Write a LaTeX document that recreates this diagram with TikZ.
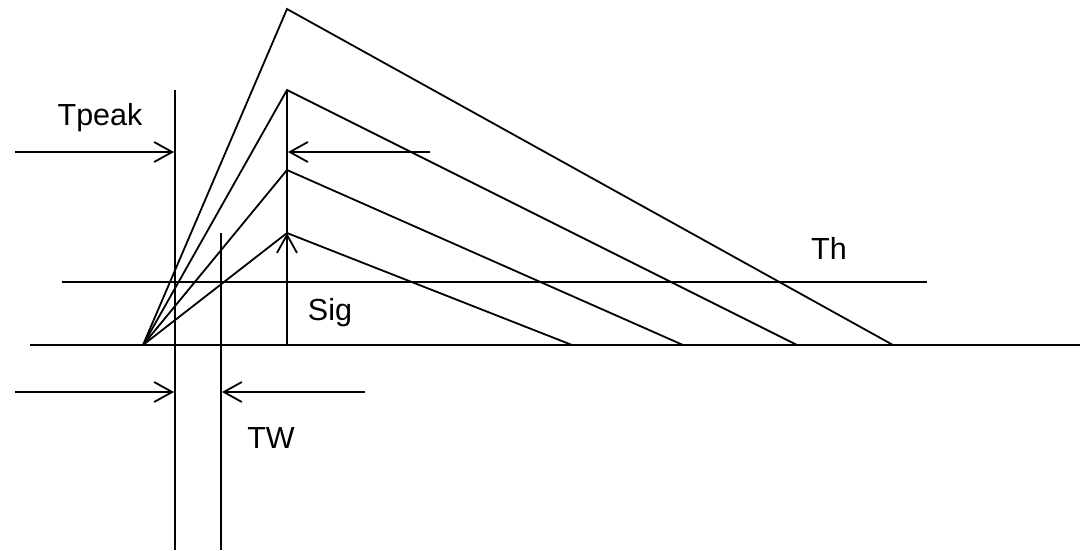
\documentclass[tikz,border=0pt]{standalone}
\usepackage{fontspec}
\setmainfont{Liberation Sans}
\usetikzlibrary{arrows.meta}
\begin{document}
\begin{tikzpicture}[x=1pt,y=-1pt,
  ln/.style={line width=1.8pt, line cap=butt, line join=miter},
  arr/.style={ln, -{Straight Barb[length=18pt,width=20pt,line width=1.8pt]}},
  lbl/.style={font=\fontsize{30.5}{36}\selectfont, inner sep=0pt}]
\useasboundingbox (0,0) rectangle (1080,550);
% coordinates
\coordinate (o) at (143,345);
\coordinate (b0) at (30,345);
\coordinate (b1) at (1080,345);
\coordinate (p1) at (287,9);
\coordinate (p2) at (287,90);
\coordinate (p3) at (287,170);
\coordinate (p4) at (287,233);
\coordinate (e1) at (893,345);
\coordinate (e2) at (797,345);
\coordinate (e3) at (683,345);
\coordinate (e4) at (572,345);
\coordinate (s0) at (287,345);
\coordinate (th0) at (62,282);
\coordinate (th1) at (927,282);
\coordinate (v1t) at (175,90);
\coordinate (v1b) at (175,550);
\coordinate (v2t) at (221,233);
\coordinate (v2b) at (221,550);
\coordinate (a1s) at (15,152);
\coordinate (a1e) at (174,152);
\coordinate (a2s) at (430,152);
\coordinate (a2e) at (288,152);
\coordinate (a3s) at (15,392);
\coordinate (a3e) at (174,392);
\coordinate (a4s) at (365,392);
\coordinate (a4e) at (222,392);
% baseline and threshold
\draw[ln] (b0) -- (b1);
\draw[ln] (th0) -- (th1);
% triangles
\draw[ln] (o) -- (p1) -- (e1);
\draw[ln] (o) -- (p2) -- (e2);
\draw[ln] (o) -- (p3) -- (e3);
\draw[ln] (o) -- (p4) -- (e4);
% vertical lines
\draw[ln] (s0) -- (p2);
\draw[arr] (s0) -- (p4);
\draw[ln] (v1t) -- (v1b);
\draw[ln] (v2t) -- (v2b);
% arrows
\draw[arr] (a1s) -- (a1e);
\draw[arr] (a2s) -- (a2e);
\draw[arr] (a3s) -- (a3e);
\draw[arr] (a4s) -- (a4e);
% labels
\node[lbl] (tpeak) at (100,118) {Tpeak};
\node[lbl] (th) at (829,248) {Th};
\node[lbl] (sig) at (330,313) {Sig};
\node[lbl] (tw) at (271,438) {TW};
\end{tikzpicture}
\end{document}
